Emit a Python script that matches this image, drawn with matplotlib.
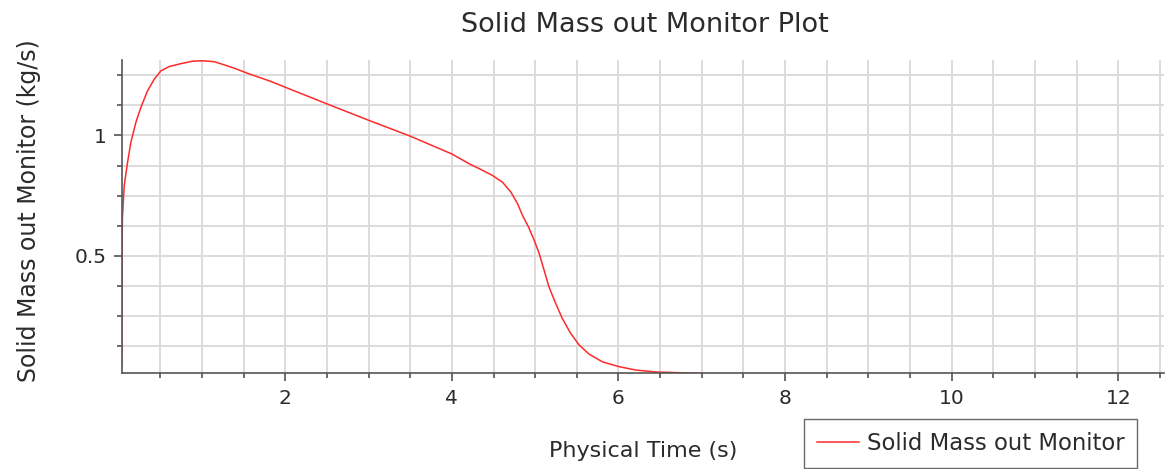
import matplotlib
matplotlib.use("Agg")
import matplotlib.pyplot as plt
from matplotlib.ticker import MultipleLocator, FormatStrFormatter

# solid mass flow at the outlet vs physical time
time_s = [0.036, 0.038, 0.040, 0.045, 0.066, 0.086, 0.106, 0.146, 0.206, 0.266,
          0.346, 0.426, 0.507, 0.606, 0.747, 0.886, 1.006, 1.146, 1.266, 1.38,
          1.57, 1.82, 2.00, 2.50, 3.00, 3.50, 4.00, 4.22, 4.328, 4.487,
          4.607, 4.708, 4.788, 4.848, 4.92, 4.988, 5.048, 5.108, 5.166, 5.246,
          5.326, 5.427, 5.528, 5.648, 5.808, 6.008, 6.209, 6.449, 7.00, 7.20,
          8.00, 10.00, 12.55]
mass_out = [0.05, 0.35, 0.55, 0.66, 0.79, 0.84, 0.888, 0.971, 1.054, 1.116,
            1.185, 1.233, 1.268, 1.286, 1.298, 1.308, 1.31, 1.306, 1.293, 1.28,
            1.255, 1.225, 1.2, 1.131, 1.063, 0.997, 0.923, 0.88, 0.862, 0.834,
            0.806, 0.765, 0.717, 0.668, 0.62, 0.565, 0.51, 0.44, 0.371, 0.303,
            0.24, 0.178, 0.13, 0.092, 0.06, 0.04, 0.026, 0.018, 0.012, 0.0,
            0.0, 0.0, 0.0]

series_name = "Solid Mass out Monitor"
title = "Solid Mass out Monitor Plot"
xlabel = "Physical Time (s)"
ylabel = "Solid Mass out Monitor (kg/s)"

plt.rcParams["font.family"] = ["DejaVu Sans"]
text_col = "#2b2b2b"

fig = plt.figure(figsize=(11.65, 4.69), dpi=100)
ax = fig.add_axes([121.7 / 1165, (469 - 373.3) / 469,
                   (1164 - 121.7) / 1165, (373.3 - 60.5) / 469])

line, = ax.plot(time_s, mass_out, color="#ff2a2a", lw=1.1, zorder=2,
                label=series_name)

ax.set_xlim(0.036, 12.55)
ax.set_ylim(0.0125, 1.311)

ax.xaxis.set_major_locator(MultipleLocator(2))
ax.xaxis.set_minor_locator(MultipleLocator(0.5))
ax.yaxis.set_major_locator(MultipleLocator(0.5))
ax.yaxis.set_minor_locator(MultipleLocator(0.125))
ax.xaxis.set_major_formatter(FormatStrFormatter("%g"))
ax.yaxis.set_major_formatter(FormatStrFormatter("%g"))

ax.grid(which="both", color="#dcdcdc", lw=1.4, zorder=0)
ax.set_axisbelow(True)

for side in ("top", "right"):
    ax.spines[side].set_visible(False)
for side in ("left", "bottom"):
    ax.spines[side].set_color("#555555")
    ax.spines[side].set_linewidth(1.2)
    ax.spines[side].set_zorder(3)

ax.tick_params(which="major", length=6, width=1.1, color="#444444",
               labelsize=14.5, labelcolor=text_col, pad=5)
ax.tick_params(which="minor", length=3.5, width=1.1, color="#444444")

fig.text(644.5 / 1165, 1 - 25 / 469, title, fontsize=19.5, color=text_col,
         ha="center", va="center")
ax.set_xlabel(xlabel, fontsize=16, color=text_col, labelpad=24)
ax.set_ylabel(ylabel, fontsize=17, color=text_col)
ax.yaxis.set_label_coords(-0.0775, 0.52)

leg = fig.legend(handles=[line], loc="lower right",
                 bbox_to_anchor=(1137 / 1165, 1.5 / 469),
                 fontsize=16.4, frameon=True, fancybox=False,
                 handlelength=1.84, handletextpad=0.36, borderpad=0.55,
                 borderaxespad=0, labelcolor=text_col)
leg.get_frame().set_edgecolor("#444444")
leg.get_frame().set_linewidth(1.0)

fig.savefig("out.png", dpi=100)
